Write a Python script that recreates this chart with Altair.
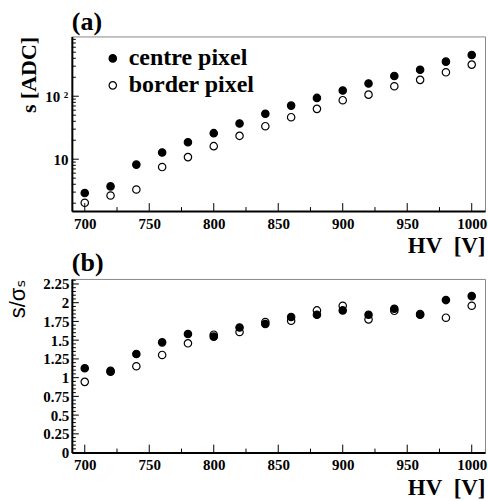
import altair as alt
import pandas as pd

# High voltage settings [V]
hv = [700, 720, 740, 760, 780, 800, 820, 840, 860, 880, 900, 920, 940, 960, 980, 1000]

# Signal amplitude s [ADC]
s_centre = [2.9, 3.7, 8.2, 12.8, 18.6, 25.9, 36.9, 52.6, 71, 94, 123, 159, 210, 263, 354, 452]
s_border = [2.03, 2.65, 3.3, 7.5, 10.8, 16.1, 23.5, 33.4, 46.4, 63, 86.5, 106, 144, 182, 240, 318]

# Signal over its spread, s / sigma_s
ratio_centre = [1.125, 1.08, 1.316, 1.471, 1.582, 1.547, 1.67, 1.715, 1.81, 1.84, 1.897, 1.84, 1.92, 1.84, 2.035, 2.088]
ratio_border = [0.944, 1.09, 1.152, 1.303, 1.458, 1.573, 1.609, 1.742, 1.76, 1.897, 1.959, 1.777, 1.892, 1.85, 1.8, 1.959]

pixels = ["centre pixel", "border pixel"]

# Tick positions
hv_major = [700, 750, 800, 850, 900, 950, 1000]
hv_minor = [725, 775, 825, 875, 925, 975]
s_major = [10, 100]
s_minor = [2, 3, 4, 5, 6, 7, 8, 9, 20, 30, 40, 50, 60, 70, 80, 90, 200, 300, 400, 500, 600, 700, 800]
ratio_major = [0, 0.25, 0.5, 0.75, 1, 1.25, 1.5, 1.75, 2, 2.25]
ratio_minor = [0.05, 0.1, 0.15, 0.2, 0.3, 0.35, 0.4, 0.45, 0.55, 0.6, 0.65, 0.7,
               0.8, 0.85, 0.9, 0.95, 1.05, 1.1, 1.15, 1.2, 1.3, 1.35, 1.4, 1.45,
               1.55, 1.6, 1.65, 1.7, 1.8, 1.85, 1.9, 1.95, 2.05, 2.1, 2.15, 2.2, 2.3]

SERIF = "Liberation Serif"
SANS = "Liberation Sans, DejaVu Sans"
W = 414
H_TOP = 175
H_BOT = 174

x_scale = alt.Scale(domain=[690, 1010.3], nice=False, zero=False)
fill_scale = alt.Scale(domain=pixels, range=["black", "transparent"])

X_AXIS = alt.Axis(
    title="HV\u00a0\u00a0[V]", titleFont=SERIF, titleFontSize=23, titleFontWeight="bold",
    titleAnchor="end", titlePadding=4, titleColor="black",
    values=hv_major, format="d", labelFont=SERIF, labelFontSize=15, labelFontWeight="bold",
    labelColor="black", labelPadding=5, ticks=False, tickSize=0, grid=False,
    domainColor="black", domainWidth=2,
)

S_AXIS = alt.Axis(
    title="s [ADC]", titleFont=SERIF, titleFontSize=22, titleFontWeight="bold",
    titleAnchor="end", titlePadding=4, titleColor="black",
    values=s_major, labelExpr="datum.value == 100 ? '10 \u00b2' : '10'",
    labelFont=SERIF, labelFontSize=15, labelFontWeight="bold", labelColor="black",
    labelPadding=4, ticks=False, tickSize=0, grid=False,
    domainColor="black", domainWidth=2,
)

R_AXIS = alt.Axis(
    title="s/\u03c3\u209b", titleFont=SANS, titleFontSize=22, titleFontWeight="normal",
    titleAnchor="end", titlePadding=13, titleColor="black",
    values=ratio_major, format=".4~g",
    labelFont=SERIF, labelFontSize=15, labelFontWeight="bold", labelColor="black",
    labelPadding=3, ticks=False, tickSize=0, grid=False,
    domainColor="black", domainWidth=2,
)


def series_frame(values_centre, values_border, name):
    # border points first so the filled markers sit on top
    return pd.DataFrame({
        "hv": hv + hv,
        name: values_border + values_centre,
        "pixel": ["border pixel"] * len(hv) + ["centre pixel"] * len(hv),
    })


def tick_layers(yname, y_scale, y_axis, y_major, y_minor, height):
    """Inward-pointing major and minor ticks on the left and bottom axes."""
    layers = []
    for vals, length in ((y_major, 7), (y_minor, 4)):
        layers.append(
            alt.Chart(pd.DataFrame({yname: vals})).mark_rule(color="black", strokeWidth=1).encode(
                y=alt.Y(f"{yname}:Q", scale=y_scale, axis=y_axis),
                x=alt.value(0), x2=alt.value(length),
            )
        )
    for vals, length in ((hv_major, 8), (hv_minor, 4)):
        layers.append(
            alt.Chart(pd.DataFrame({"hv": vals})).mark_rule(color="black", strokeWidth=1).encode(
                x=alt.X("hv:Q", scale=x_scale, axis=X_AXIS),
                y=alt.value(height), y2=alt.value(height - length),
            )
        )
    return layers


def panel_title(text):
    return alt.TitleParams(text, anchor="start", font=SERIF, fontSize=26, fontWeight="bold",
                           color="black", offset=1, frame="group")


# Panel (a): signal amplitude on a log scale
s_scale = alt.Scale(type="log", domain=[1.5, 890], nice=False)
top_points = alt.Chart(series_frame(s_centre, s_border, "s")).mark_circle(
    size=55, opacity=1, stroke="black", strokeWidth=1.2
).encode(
    x=alt.X("hv:Q", scale=x_scale, axis=X_AXIS),
    y=alt.Y("s:Q", scale=s_scale, axis=S_AXIS),
    fill=alt.Fill("pixel:N", scale=fill_scale, legend=alt.Legend(
        title=None, orient="none", legendX=29, legendY=10, padding=0,
        labelFont=SERIF, labelFontSize=24, labelFontWeight="bold", labelColor="black",
        symbolType="circle", symbolSize=55, symbolStrokeColor="black",
        symbolStrokeWidth=1.2, symbolOpacity=1, labelOffset=4, rowPadding=3,
    )),
)
top = alt.layer(top_points, *tick_layers("s", s_scale, S_AXIS, s_major, s_minor, H_TOP)).properties(
    width=W, height=H_TOP, title=panel_title("(a)"),
)

# Panel (b): s / sigma_s on a linear scale
r_scale = alt.Scale(domain=[0, 2.317], nice=False, zero=True)
bottom_points = alt.Chart(series_frame(ratio_centre, ratio_border, "r")).mark_circle(
    size=55, opacity=1, stroke="black", strokeWidth=1.2
).encode(
    x=alt.X("hv:Q", scale=x_scale, axis=X_AXIS),
    y=alt.Y("r:Q", scale=r_scale, axis=R_AXIS),
    fill=alt.Fill("pixel:N", scale=fill_scale, legend=None),
)
bottom = alt.layer(bottom_points, *tick_layers("r", r_scale, R_AXIS, ratio_major, ratio_minor, H_BOT)).properties(
    width=W, height=H_BOT, title=panel_title("(b)"),
)

chart = alt.vconcat(top, bottom, spacing=68, bounds="flush").properties(
    padding={"left": 6, "top": 8, "right": 0, "bottom": 0},
    background="white",
).configure_view(
    stroke="#888888", strokeWidth=1,
)

chart.save("out.html", embed_options={"renderer": "svg", "actions": False})
